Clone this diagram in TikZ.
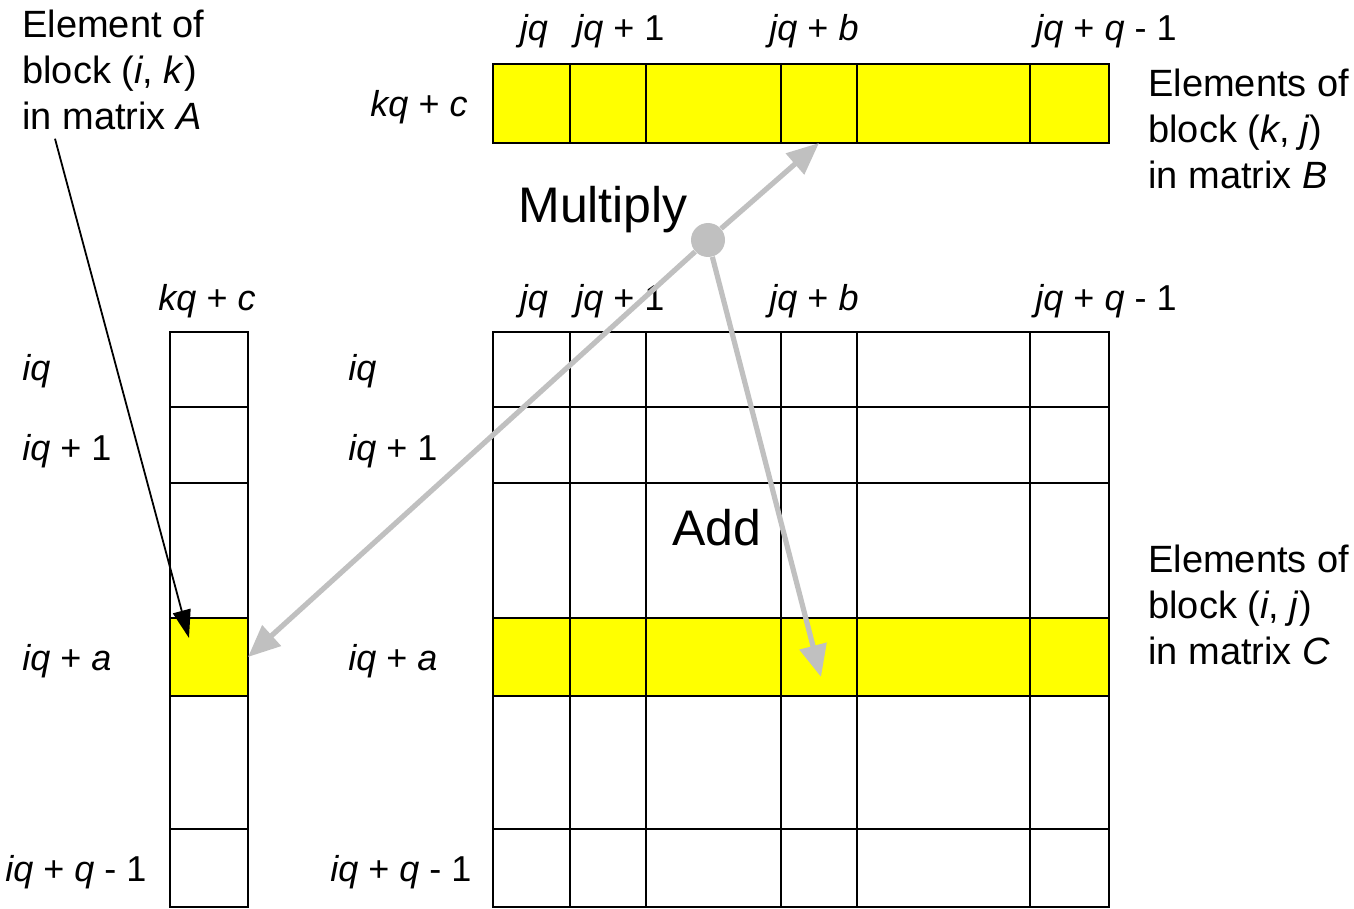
\documentclass[tikz,border=0pt]{standalone}
\usepackage{fontspec}
\setmainfont{Liberation Sans}
\usetikzlibrary{calc, positioning, arrows.meta}
\definecolor{cellyellow}{RGB}{255,255,0}
\definecolor{linkgray}{RGB}{192,192,192}

\begin{document}
\begin{tikzpicture}[
  bcell/.style={rectangle, draw, line width=1pt, inner sep=0pt, outer sep=0pt, fill=cellyellow, minimum height=39.5pt, minimum width=#1},
  acell/.style={rectangle, draw, line width=1pt, inner sep=0pt, outer sep=0pt, minimum width=39pt, minimum height=#1},
  gridline/.style={draw, line width=1pt},
  lbl/.style={font=\fontsize{19}{23}\selectfont, inner sep=0pt},
  idx/.style={font=\fontsize{18}{22}\selectfont, inner sep=0pt},
  biglbl/.style={font=\fontsize{25}{30}\selectfont, inner sep=0pt},
  linkarrow/.style={draw=linkgray, line width=2.6pt, -{Triangle[length=16pt, width=13.5pt]}},
  pointer/.style={draw=black, line width=0.9pt, -{Triangle[length=14pt, width=9pt]}}
]
  \useasboundingbox (0,0) rectangle (677pt,-454.5pt);

  % Block (k, j) of B
  \node[bcell=38.5pt, anchor=north west] (b1) at (246.5pt,-32pt) {};
  \node[bcell=38pt, right=0pt of b1] (b2) {};
  \node[bcell=67.5pt, right=0pt of b2] (b3) {};
  \node[bcell=38pt, right=0pt of b3] (b4) {};
  \node[bcell=86.5pt, right=0pt of b4] (b5) {};
  \node[bcell=39.5pt, right=0pt of b5] (b6) {};

  % Block (i, k) of A
  \node[acell=37.5pt, anchor=north west] (a1) at (85pt,-166pt) {};
  \node[acell=38pt, below=0pt of a1] (a2) {};
  \node[acell=67.5pt, below=0pt of a2] (a3) {};
  \node[acell=39pt, below=0pt of a3, fill=cellyellow] (a4) {};
  \node[acell=66.5pt, below=0pt of a4] (a5) {};
  \node[acell=39pt, below=0pt of a5] (a6) {};

  % Block (i, j) of C
  \node[rectangle, draw, line width=1pt, inner sep=0pt, outer sep=0pt, minimum width=308pt, minimum height=287.5pt, anchor=north west] (cgrid) at (b1.south west |- a1.north) {};
  \node[rectangle, draw, line width=1pt, inner sep=0pt, outer sep=0pt, minimum width=308pt, minimum height=39pt, fill=cellyellow, anchor=west] (crow) at (cgrid.west |- a4.west) {};
  \foreach \c in {b1,b2,b3,b4,b5}
    \draw[gridline] (\c.east |- cgrid.north) -- (\c.east |- cgrid.south);
  \foreach \r in {a1,a2,a3,a4,a5}
    \draw[gridline] (\r.south -| cgrid.west) -- (\r.south -| cgrid.east);

  % Column labels
  \node[idx, anchor=base] (bjq) at (267pt,-20.5pt) {\textit{jq}};
  \node[idx, anchor=base] (bjq1) at (310pt,-20.5pt) {\textit{jq} + 1};
  \node[idx, anchor=base] (bjqb) at (407pt,-20.5pt) {\textit{jq} + \textit{b}};
  \node[idx, anchor=base] (bjqq) at (553pt,-20.5pt) {\textit{jq} + \textit{q} - 1};
  \node[idx, anchor=base] (cjq) at (267pt,-155pt) {\textit{jq}};
  \node[idx, anchor=base] (cjq1) at (310pt,-155pt) {\textit{jq} + 1};
  \node[idx, anchor=base] (cjqb) at (407pt,-155pt) {\textit{jq} + \textit{b}};
  \node[idx, anchor=base] (cjqq) at (553pt,-155pt) {\textit{jq} + \textit{q} - 1};
  \node[idx, anchor=base] (bkqc) at (209.5pt,-58.5pt) {\textit{kq} + \textit{c}};
  \node[idx, anchor=base] (akqc) at (103.5pt,-155pt) {\textit{kq} + \textit{c}};

  % Row labels
  \node[idx, anchor=base west] (aiq) at (11pt,-190pt) {\textit{iq}};
  \node[idx, anchor=base west] (aiq1) at (11pt,-230pt) {\textit{iq} + 1};
  \node[idx, anchor=base west] (aiqa) at (11pt,-335pt) {\textit{iq} + \textit{a}};
  \node[idx, anchor=base west] (aiqq) at (2.5pt,-440.5pt) {\textit{iq} + \textit{q} - 1};
  \node[idx, anchor=base west] (ciq) at (174pt,-190pt) {\textit{iq}};
  \node[idx, anchor=base west] (ciq1) at (174pt,-230pt) {\textit{iq} + 1};
  \node[idx, anchor=base west] (ciqa) at (174pt,-335pt) {\textit{iq} + \textit{a}};
  \node[idx, anchor=base west] (ciqq) at (165pt,-440.5pt) {\textit{iq} + \textit{q} - 1};

  % Block captions
  \node[lbl, align=left, anchor=north west] (elemA) at (11pt,-5pt) {Element of\\block (\textit{i}, \textit{k})\\in matrix \textit{A}};
  \node[lbl, align=left, anchor=north west] (elemB) at (574pt,-34.5pt) {Elements of\\block (\textit{k}, \textit{j})\\in matrix \textit{B}};
  \node[lbl, align=left, anchor=north west] (elemC) at (574pt,-272.5pt) {Elements of\\block (\textit{i}, \textit{j})\\in matrix \textit{C}};
  \node[biglbl, anchor=base west] (mult) at (259pt,-111.5pt) {Multiply};
  \node[biglbl, anchor=base west] (add) at (336pt,-272.5pt) {Add};

  % Multiply-add links
  \node[circle, fill=linkgray, minimum size=17pt, inner sep=0pt] (hub) at (354pt,-120pt) {};
  \coordinate (addtip) at ($(b4.south |- crow.center)+(1pt,-10pt)$);
  \draw[linkarrow] (hub) -- (b4.south);
  \draw[linkarrow] (hub) -- (a4.east);
  \draw[linkarrow] (hub) -- (addtip);

  % Pointer to element of A
  \coordinate (ptrstart) at ($(elemA.south west)+(16.5pt,-4pt)$);
  \coordinate (ptrtip) at ($(a4.north west)+(9.5pt,-10pt)$);
  \draw[pointer] (ptrstart) -- (ptrtip);
\end{tikzpicture}
\end{document}
